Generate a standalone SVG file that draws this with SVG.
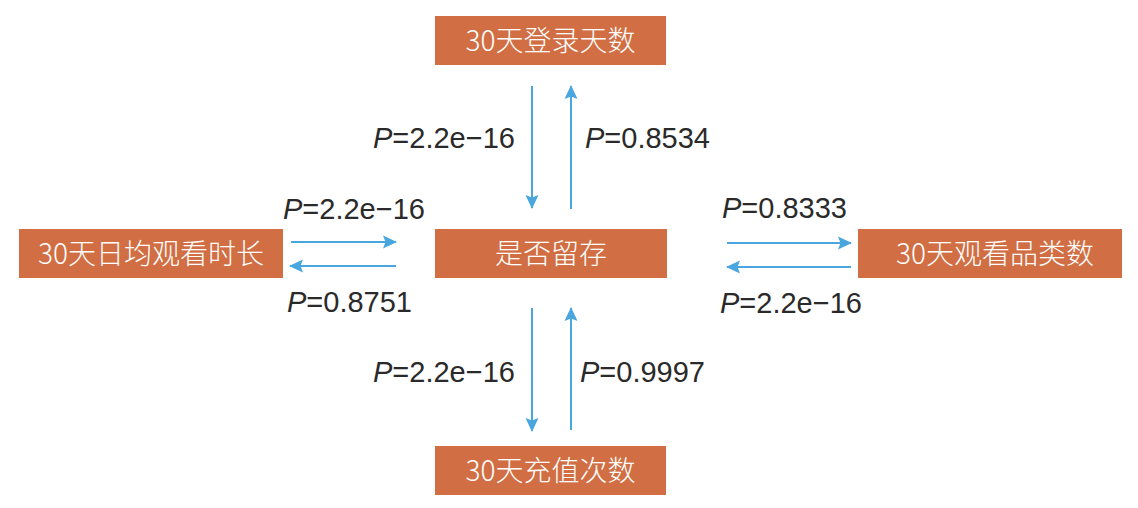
<svg xmlns="http://www.w3.org/2000/svg" width="1138" height="508" viewBox="0 0 1138 508">
<defs>
<marker id="ah" markerWidth="14" markerHeight="14" viewBox="0 0 14 14" refX="13" refY="7" orient="auto" markerUnits="userSpaceOnUse">
<path d="M0,0.5 L14,7 L0,13.5 L2.5,7 Z" fill="#4aa6df"/>
</marker>
<style>
.box{fill:#d16e43;}
.bt{fill:#ffffff;font-family:"Noto Sans CJK SC","Noto Sans",sans-serif;font-size:28px;font-weight:300;text-anchor:middle;}
.lbl{fill:#2a2a2a;font-family:"Liberation Sans","Noto Sans",sans-serif;font-size:29px;}
.ar{stroke:#4aa6df;stroke-width:2;fill:none;marker-end:url(#ah);}
</style>
</defs>
<rect width="1138" height="508" fill="#ffffff"/>
<g id="n-login"><rect class="box" x="435" y="16" width="231" height="49"/><text class="bt" x="550.5" y="51">30天登录天数</text></g>
<g id="n-retain"><rect class="box" x="435" y="229" width="232" height="49"/><text class="bt" x="551" y="264">是否留存</text></g>
<g id="n-duration"><rect class="box" x="19" y="229" width="264" height="49"/><text class="bt" x="151" y="264">30天日均观看时长</text></g>
<g id="n-category"><rect class="box" x="858" y="229" width="264" height="49"/><text class="bt" x="995" y="264">30天观看品类数</text></g>
<g id="n-recharge"><rect class="box" x="435" y="446" width="231" height="49"/><text class="bt" x="550.5" y="481">30天充值次数</text></g>
<g id="connectors">
<line class="ar" x1="532" y1="86" x2="532" y2="208"/>
<line class="ar" x1="571" y1="209" x2="571" y2="86"/>
<line class="ar" x1="291" y1="242" x2="396" y2="242"/>
<line class="ar" x1="396" y1="266" x2="290" y2="266"/>
<line class="ar" x1="727" y1="243" x2="851" y2="243"/>
<line class="ar" x1="851" y1="267" x2="727" y2="267"/>
<line class="ar" x1="532" y1="308" x2="532" y2="431"/>
<line class="ar" x1="571" y1="430" x2="571" y2="308"/>
</g>
<g id="labels">
<text class="lbl" x="373" y="148"><tspan font-style="italic">P</tspan>=2.2e−16</text>
<text class="lbl" x="585" y="148"><tspan font-style="italic">P</tspan>=0.8534</text>
<text class="lbl" x="283" y="219"><tspan font-style="italic">P</tspan>=2.2e−16</text>
<text class="lbl" x="287" y="312"><tspan font-style="italic">P</tspan>=0.8751</text>
<text class="lbl" x="722" y="218"><tspan font-style="italic">P</tspan>=0.8333</text>
<text class="lbl" x="720" y="313"><tspan font-style="italic">P</tspan>=2.2e−16</text>
<text class="lbl" x="373" y="382"><tspan font-style="italic">P</tspan>=2.2e−16</text>
<text class="lbl" x="580" y="382"><tspan font-style="italic">P</tspan>=0.9997</text>
</g>
</svg>
